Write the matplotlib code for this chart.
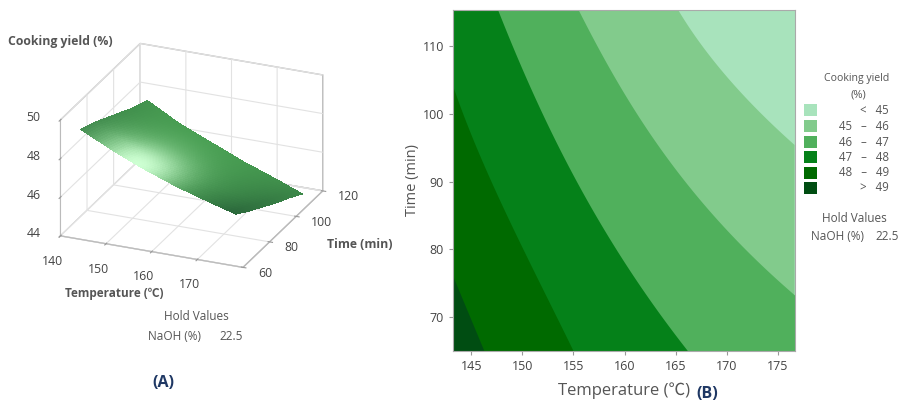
import numpy as np
import matplotlib
matplotlib.use("Agg")
import matplotlib.pyplot as plt
from matplotlib.patches import Rectangle

plt.rcParams['font.family'] = ['Open Sans', 'DejaVu Sans']

# Contour boundaries: (temperature, time)
b49_temp = [143.2, 144.6, 146.3]
b49_time = [76.2, 70.8, 65]
b48_temp = [143.2, 145.1, 146.6, 147.9, 150.7, 152.8, 155]
b48_time = [104.2, 96.1, 91.7, 86.8, 78, 71.8, 65]
b47_temp = [147.6, 150.4, 153.3, 156.3, 158.5, 161.8, 166.2]
b47_time = [115.3, 105.4, 95.7, 87.3, 81.8, 74, 65]
b46_temp = [155.5, 157.5, 160.5, 163.7, 167, 169, 173.5, 176.7]
b46_time = [115.3, 109.4, 102, 94.6, 87.3, 84.7, 78, 73]
b45_temp = [165.1, 167, 168.6, 172, 176.7]
b45_time = [115.3, 111.9, 107.9, 102, 95.4]
legend_labels = ["<   45", "45   –   46", "46   –   47", "47   –   48", "48   –   49", ">   49"]
band_colors = ["#A8E3BC", "#82CB8C", "#50B05C", "#058119", "#006A00", "#004D12"]

# Surface heights
surf_temp = [143, 150, 157, 164, 171, 177]
surf_time = [65, 75, 85, 95, 105, 115]
surf_z = [[49.3, 48.5, 47.8, 47.2, 46.7, 46.3],
          [49.0, 48.2, 47.4, 46.8, 46.3, 45.8],
          [48.6, 47.7, 47.0, 46.4, 45.8, 45.35],
          [48.2, 47.3, 46.6, 46.0, 45.4, 44.9],
          [47.8, 47.0, 46.3, 45.6, 45.0, 44.5],
          [47.5, 46.6, 45.9, 45.2, 44.6, 44.05]]

fig = plt.figure(figsize=(9.01, 4.05), dpi=100)
W, H = 901, 405
grey = "#555555"


def smooth(temps, times, deg):
    """Smooth curve through the read boundary points."""
    tt = np.linspace(times[-1], times[0], 80)
    return list(np.polyval(np.polyfit(times, temps, deg), tt)), list(tt)


# --- contour panel
ax = fig.add_axes([453/W, 1-351/H, 342/W, 341/H])
ax.set_facecolor(band_colors[0])
xmin, xmax = 143.2, 176.7
tmin, tmax = 65, 115.3
low = 130
bounds = [(b45_temp, b45_time, 2, 1), (b46_temp, b46_time, 3, 2), (b47_temp, b47_time, 3, 3),
          (b48_temp, b48_time, 3, 4), (b49_temp, b49_time, 1, 5)]
for temps, tms, deg, ci in bounds:
    xs, ys_ = smooth(temps, tms, deg)
    # curve runs bottom to top; close on the cool side
    ax.fill(xs + [low, low, xs[0]], ys_ + [ys_[-1], 60, 60], color=band_colors[ci], lw=0)
ax.set_xlim(xmin, xmax)
ax.set_ylim(tmin, tmax)
ax.set_xticks([145, 150, 155, 160, 165, 170, 175])
ax.set_yticks([70, 80, 90, 100, 110])
ax.tick_params(labelsize=9, length=3, color="#999999", labelcolor="#444444")
for s in ax.spines.values():
    s.set_color("#AAAAAA")
ax.set_xlabel("Temperature (℃)", fontsize=12, color=grey, labelpad=7, family=['Open Sans', 'Noto Sans CJK SC', 'DejaVu Sans'])
ax.set_ylabel("Time (min)", fontsize=10.5, color=grey, labelpad=2)

# --- 3D panel
ax3 = fig.add_axes([-33/W, 1-330/H, 440/W, 340/H], projection="3d")
ax3.set_proj_type("ortho")
ax3.view_init(elev=24, azim=-67)
ax3.set_box_aspect((1, 1.03, 0.64), zoom=0.89)
ax3.set_xlim(140, 180)
ax3.set_ylim(60, 120)
ax3.set_zlim(44, 50)
fine_temp = np.linspace(surf_temp[0], surf_temp[-1], 70)
fine_time = np.linspace(surf_time[0], surf_time[-1], 70)
Z = np.array(surf_z)
Zr = np.array([np.interp(fine_temp, surf_temp, row) for row in Z])
Zf = np.array([np.interp(fine_time, surf_time, col) for col in Zr.T]).T
T, M = np.meshgrid(fine_temp, fine_time)
u = (T - 155) / 17
v = (M - 65) / 50
mid = np.array([72, 158, 82]) / 255
dark = np.array([28, 52, 22]) / 255
side = np.where(u > 0, 0.7, 1.0)
base = mid[None, None, :] - dark[None, None, :] * (side * np.minimum(np.abs(u), 1.2)**2 * (1 - 0.6 * v))[..., None]
glow = np.exp(-(u**2 / 0.2 + v**2 / 0.25))[..., None]
cols = np.clip(base + (np.array([205, 255, 210]) / 255 - base) * glow, 0, 1)
ax3.plot_surface(T, M, Zf, facecolors=cols[:-1, :-1], shade=False, rstride=1, cstride=1, lw=0, antialiased=False)
for a in (ax3.xaxis, ax3.yaxis, ax3.zaxis):
    a.set_pane_color((1, 1, 1, 1))
    a.pane.set_edgecolor("#BBBBBB")
    a._axinfo["grid"]["color"] = "#E2E2E2"
    a._axinfo["grid"]["linewidth"] = 0.8
    a.line.set_color("#BBBBBB")
ax3.set_xticks([140, 150, 160, 170])
ax3.set_yticks([60, 80, 100, 120])
ax3.set_zticks([44, 46, 48, 50])
ax3.zaxis.set_ticks_position('lower')
ax3.tick_params(labelsize=8.8, labelcolor="#444444", color="#999999")
ax3.tick_params(axis="x", pad=4.5)
ax3.tick_params(axis="y", pad=2.5)
ax3.tick_params(axis="z", pad=5)
for lab in ax3.get_yticklabels():
    lab.set_va("bottom")
    lab.set_ha("left")
for lab in ax3.get_zticklabels():
    lab.set_va("bottom")


def t(x, y, s, **k):
    k.setdefault("color", "#555555")
    k.setdefault("fontsize", 8)
    k.setdefault("va", "center")
    fig.text(x/W, 1-y/H, s, **k)


fam = ['Open Sans', 'Noto Sans CJK SC', 'DejaVu Sans']
t(8, 41, "Cooking yield (%)", fontweight="bold", fontsize=8.8)
t(114, 294, "Temperature (℃)", fontweight="bold", fontsize=8.5, ha="center", family=fam)
t(360, 245, "Time (min)", fontweight="bold", fontsize=8.8, ha="center")
t(196, 317, "Hold Values", ha="center", fontsize=8.5)
t(148, 336, "NaOH (%)", fontsize=8.5)
t(219, 336, "22.5", fontsize=8.5)
t(163, 383, "(A)", color="#1F3864", fontweight="bold", fontsize=11.5, ha="center")
t(707, 394, "(B)", color="#1F3864", fontweight="bold", fontsize=11.5, ha="center")

t(857, 78, "Cooking yield", ha="center", fontsize=7.6)
t(858, 95, "(%)", ha="center")
ys = [110, 126, 142, 157, 173, 188]
for y, c, lab in zip(ys, band_colors, legend_labels):
    fig.add_artist(Rectangle((804/W, 1-(y+6)/H), 13/W, 12/H, transform=fig.transFigure, color=c, lw=0))
    t(889, y, lab, ha="right", fontsize=8.3)
t(854, 219, "Hold Values", ha="center", fontsize=8.5)
t(811, 236, "NaOH (%)", fontsize=8.5)
t(875, 236, "22.5", fontsize=8.5)

fig.savefig("out.png", dpi=100)
